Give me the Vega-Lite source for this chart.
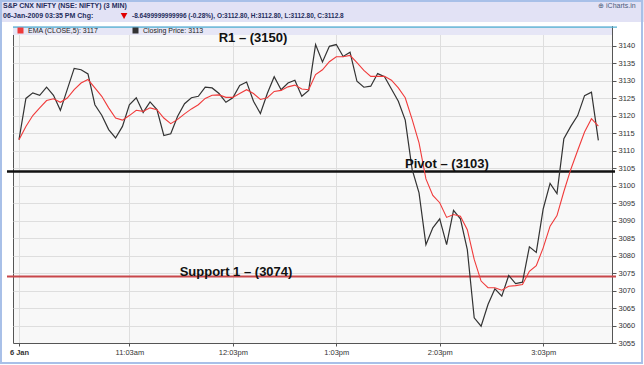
{
  "$schema": "https://vega.github.io/schema/vega-lite/v6.json",
  "width": 599,
  "height": 317,
  "autosize": "none",
  "padding": {"left": 13, "top": 26, "right": 32, "bottom": 22},
  "background": "#ffffff",
  "data": {"values": [{}]},
  "config": {
    "view": {"fill": "#f8f8f8", "stroke": "#555555", "strokeWidth": 1},
    "font": "Liberation Sans",
    "axis": {"labelFont": "Liberation Sans", "labelFontSize": 7.5, "labelColor": "#333333", "gridColor": "#dedede", "gridWidth": 1, "domainColor": "#555555", "tickColor": "#555555", "title": null, "labelOverlap": false}
  },
  "datasets": {
    "prices": [
      {"time": "2009-01-06 09:59", "close": 3113.1, "ema": 3113.1},
      {"time": "2009-01-06 10:03", "close": 3124.9, "ema": 3116.9},
      {"time": "2009-01-06 10:07", "close": 3126.5, "ema": 3120.0},
      {"time": "2009-01-06 10:11", "close": 3125.8, "ema": 3122.2},
      {"time": "2009-01-06 10:15", "close": 3128.1, "ema": 3124.3},
      {"time": "2009-01-06 10:19", "close": 3125.8, "ema": 3124.8},
      {"time": "2009-01-06 10:23", "close": 3121.5, "ema": 3123.8},
      {"time": "2009-01-06 10:27", "close": 3127.5, "ema": 3125.0},
      {"time": "2009-01-06 10:31", "close": 3133.5, "ema": 3127.4},
      {"time": "2009-01-06 10:35", "close": 3133.1, "ema": 3129.3},
      {"time": "2009-01-06 10:39", "close": 3131.9, "ema": 3130.3},
      {"time": "2009-01-06 10:43", "close": 3123.1, "ema": 3127.9},
      {"time": "2009-01-06 10:47", "close": 3120.1, "ema": 3125.5},
      {"time": "2009-01-06 10:51", "close": 3116.0, "ema": 3122.2},
      {"time": "2009-01-06 10:55", "close": 3113.6, "ema": 3119.3},
      {"time": "2009-01-06 10:59", "close": 3116.9, "ema": 3118.7},
      {"time": "2009-01-06 11:03", "close": 3123.1, "ema": 3120.0},
      {"time": "2009-01-06 11:07", "close": 3125.1, "ema": 3121.5},
      {"time": "2009-01-06 11:11", "close": 3120.9, "ema": 3121.2},
      {"time": "2009-01-06 11:15", "close": 3123.9, "ema": 3122.2},
      {"time": "2009-01-06 11:19", "close": 3121.7, "ema": 3121.7},
      {"time": "2009-01-06 11:23", "close": 3114.3, "ema": 3119.3},
      {"time": "2009-01-06 11:27", "close": 3114.8, "ema": 3117.7},
      {"time": "2009-01-06 11:31", "close": 3119.8, "ema": 3118.9},
      {"time": "2009-01-06 11:35", "close": 3123.4, "ema": 3120.5},
      {"time": "2009-01-06 11:39", "close": 3125.1, "ema": 3121.9},
      {"time": "2009-01-06 11:43", "close": 3125.5, "ema": 3123.1},
      {"time": "2009-01-06 11:47", "close": 3128.1, "ema": 3124.9},
      {"time": "2009-01-06 11:51", "close": 3127.9, "ema": 3125.8},
      {"time": "2009-01-06 11:55", "close": 3126.3, "ema": 3125.9},
      {"time": "2009-01-06 11:59", "close": 3123.8, "ema": 3125.2},
      {"time": "2009-01-06 12:03", "close": 3125.1, "ema": 3125.2},
      {"time": "2009-01-06 12:07", "close": 3128.6, "ema": 3126.3},
      {"time": "2009-01-06 12:11", "close": 3129.6, "ema": 3127.4},
      {"time": "2009-01-06 12:15", "close": 3124.1, "ema": 3126.3},
      {"time": "2009-01-06 12:19", "close": 3120.6, "ema": 3124.6},
      {"time": "2009-01-06 12:23", "close": 3126.3, "ema": 3125.1},
      {"time": "2009-01-06 12:27", "close": 3131.1, "ema": 3126.9},
      {"time": "2009-01-06 12:31", "close": 3127.4, "ema": 3127.2},
      {"time": "2009-01-06 12:35", "close": 3129.3, "ema": 3128.2},
      {"time": "2009-01-06 12:39", "close": 3130.1, "ema": 3128.7},
      {"time": "2009-01-06 12:43", "close": 3125.5, "ema": 3127.6},
      {"time": "2009-01-06 12:47", "close": 3127.2, "ema": 3127.4},
      {"time": "2009-01-06 12:51", "close": 3140.3, "ema": 3131.7},
      {"time": "2009-01-06 12:55", "close": 3135.3, "ema": 3133.1},
      {"time": "2009-01-06 12:59", "close": 3139.8, "ema": 3135.4},
      {"time": "2009-01-06 13:03", "close": 3140.3, "ema": 3136.8},
      {"time": "2009-01-06 13:07", "close": 3136.9, "ema": 3136.8},
      {"time": "2009-01-06 13:11", "close": 3138.1, "ema": 3137.2},
      {"time": "2009-01-06 13:15", "close": 3129.8, "ema": 3135.1},
      {"time": "2009-01-06 13:19", "close": 3128.1, "ema": 3132.9},
      {"time": "2009-01-06 13:23", "close": 3128.4, "ema": 3131.2},
      {"time": "2009-01-06 13:27", "close": 3132.0, "ema": 3131.2},
      {"time": "2009-01-06 13:31", "close": 3131.1, "ema": 3131.2},
      {"time": "2009-01-06 13:35", "close": 3127.6, "ema": 3130.1},
      {"time": "2009-01-06 13:39", "close": 3124.1, "ema": 3127.9},
      {"time": "2009-01-06 13:43", "close": 3118.7, "ema": 3125.1},
      {"time": "2009-01-06 13:47", "close": 3104.6, "ema": 3118.9},
      {"time": "2009-01-06 13:51", "close": 3097.9, "ema": 3112.2},
      {"time": "2009-01-06 13:55", "close": 3083.1, "ema": 3101.9},
      {"time": "2009-01-06 13:59", "close": 3087.9, "ema": 3097.2},
      {"time": "2009-01-06 14:03", "close": 3090.5, "ema": 3095.1},
      {"time": "2009-01-06 14:07", "close": 3083.1, "ema": 3090.9},
      {"time": "2009-01-06 14:11", "close": 3092.9, "ema": 3091.7},
      {"time": "2009-01-06 14:15", "close": 3090.5, "ema": 3091.2},
      {"time": "2009-01-06 14:19", "close": 3081.7, "ema": 3087.4},
      {"time": "2009-01-06 14:23", "close": 3062.2, "ema": 3078.9},
      {"time": "2009-01-06 14:27", "close": 3059.8, "ema": 3072.7},
      {"time": "2009-01-06 14:31", "close": 3066.0, "ema": 3070.8},
      {"time": "2009-01-06 14:35", "close": 3070.5, "ema": 3070.8},
      {"time": "2009-01-06 14:39", "close": 3068.4, "ema": 3070.1},
      {"time": "2009-01-06 14:43", "close": 3074.3, "ema": 3071.2},
      {"time": "2009-01-06 14:47", "close": 3072.0, "ema": 3071.4},
      {"time": "2009-01-06 14:51", "close": 3072.4, "ema": 3071.7},
      {"time": "2009-01-06 14:55", "close": 3082.5, "ema": 3075.5},
      {"time": "2009-01-06 14:59", "close": 3080.9, "ema": 3077.1},
      {"time": "2009-01-06 15:03", "close": 3093.3, "ema": 3082.2},
      {"time": "2009-01-06 15:07", "close": 3100.6, "ema": 3088.4},
      {"time": "2009-01-06 15:11", "close": 3097.7, "ema": 3091.4},
      {"time": "2009-01-06 15:15", "close": 3113.4, "ema": 3098.3},
      {"time": "2009-01-06 15:19", "close": 3116.9, "ema": 3104.6},
      {"time": "2009-01-06 15:23", "close": 3120.0, "ema": 3110.0},
      {"time": "2009-01-06 15:27", "close": 3125.7, "ema": 3115.3},
      {"time": "2009-01-06 15:31", "close": 3126.7, "ema": 3119.1},
      {"time": "2009-01-06 15:35", "close": 3112.9, "ema": 3117.0}
    ],
    "notes": [
      {"label": "R1 – (3150)", "time": "2009-01-06 12:14:43", "value": 3142.1},
      {"label": "Pivot – (3103)", "time": "2009-01-06 14:07:13", "value": 3106.2},
      {"label": "Support 1 – (3074)", "time": "2009-01-06 12:04:52", "value": 3075.4}
    ]
  },
  "layer": [
    {
      "mark": {"type": "rect", "color": "#e2e2f5"},
      "encoding": {
        "x": {"datum": {"year": 2009, "month": 1, "date": 6, "hours": 9, "minutes": 45}, "type": "temporal",
          "scale": {"domain": [{"year": 2009, "month": 1, "date": 6, "hours": 9, "minutes": 55, "seconds": 31}, {"year": 2009, "month": 1, "date": 6, "hours": 15, "minutes": 42, "seconds": 55}], "nice": false},
          "axis": {"values": [
            {"year": 2009, "month": 1, "date": 6, "hours": 9, "minutes": 59},
            {"year": 2009, "month": 1, "date": 6, "hours": 11, "minutes": 3},
            {"year": 2009, "month": 1, "date": 6, "hours": 12, "minutes": 3},
            {"year": 2009, "month": 1, "date": 6, "hours": 13, "minutes": 3},
            {"year": 2009, "month": 1, "date": 6, "hours": 14, "minutes": 3},
            {"year": 2009, "month": 1, "date": 6, "hours": 15, "minutes": 3}],
            "tickCount": 20,
            "labelExpr": "hours(datum.value) < 10 ? '6 Jan' : timeFormat(datum.value, '%-I:%M') + (hours(datum.value) < 12 ? 'am' : 'pm')",
            "labelFontWeight": {"condition": {"test": "hours(datum.value) < 10", "value": "bold"}, "value": "normal"},
            "grid": true, "tickSize": 3, "labelPadding": 2, "labelFlush": false, "labelOverlap": false}},
        "x2": {"datum": {"year": 2009, "month": 1, "date": 6, "hours": 16, "minutes": 5}},
        "y": {"datum": 3158, "type": "quantitative",
          "scale": {"domain": [3055, 3145.6], "nice": false, "zero": false},
          "axis": {"orient": "right", "values": [3055, 3060, 3065, 3070, 3075, 3080, 3085, 3090, 3095, 3100, 3105, 3110, 3115, 3120, 3125, 3130, 3135, 3140], "tickCount": 40, "grid": true, "tickSize": 4, "labelPadding": 2, "format": "d", "labelOverlap": false}},
        "y2": {"datum": 3146.75}
      }
    },
    {
      "mark": {"type": "rect", "color": "#e6e6f6"},
      "encoding": {
        "x": {"datum": {"year": 2009, "month": 1, "date": 6, "hours": 9, "minutes": 55, "seconds": 31}, "type": "temporal"},
        "x2": {"datum": {"year": 2009, "month": 1, "date": 6, "hours": 15, "minutes": 42, "seconds": 55}},
        "y": {"datum": 3145.6, "type": "quantitative"},
        "y2": {"datum": 3143.0}
      }
    },
    {
      "mark": {"type": "rule", "color": "#4fb0d2", "strokeWidth": 1.2},
      "encoding": {
        "x": {"datum": {"year": 2009, "month": 1, "date": 6, "hours": 9, "minutes": 55, "seconds": 31}, "type": "temporal"},
        "x2": {"datum": {"year": 2009, "month": 1, "date": 6, "hours": 15, "minutes": 45, "seconds": 50}},
        "y": {"datum": 3145.3, "type": "quantitative"}
      }
    },
    {
      "mark": {"type": "rule", "color": "#111111", "strokeWidth": 2.5},
      "encoding": {
        "x": {"datum": {"year": 2009, "month": 1, "date": 6, "hours": 9, "minutes": 52, "seconds": 2}, "type": "temporal"},
        "x2": {"datum": {"year": 2009, "month": 1, "date": 6, "hours": 15, "minutes": 44, "seconds": 40}},
        "y": {"datum": 3104, "type": "quantitative"}
      }
    },
    {
      "mark": {"type": "rule", "color": "#c8474a", "strokeWidth": 2},
      "encoding": {
        "x": {"datum": {"year": 2009, "month": 1, "date": 6, "hours": 9, "minutes": 52, "seconds": 2}, "type": "temporal"},
        "x2": {"datum": {"year": 2009, "month": 1, "date": 6, "hours": 15, "minutes": 45, "seconds": 15}},
        "y": {"datum": 3074, "type": "quantitative"}
      }
    },
    {
      "data": {"name": "prices"},
      "mark": {"type": "line", "strokeWidth": 1.2},
      "encoding": {
        "x": {"field": "time", "type": "temporal"},
        "y": {"field": "close", "type": "quantitative"},
        "color": {"datum": "Closing Price: 3113", "type": "nominal",
          "scale": {"domain": ["EMA (CLOSE,5): 3117", "Closing Price: 3113"], "range": ["#f03a3a", "#333333"]},
          "legend": {"orient": "none", "legendX": 4, "legendY": 1, "direction": "horizontal", "title": null,
            "symbolType": "square", "symbolSize": 9, "symbolStrokeWidth": 3, "labelFontSize": 7, "labelFont": "Liberation Sans",
            "labelColor": "#222222", "columnPadding": 29, "padding": 0, "labelOffset": 4}}
      }
    },
    {
      "data": {"name": "prices"},
      "mark": {"type": "line", "strokeWidth": 1.1},
      "encoding": {
        "x": {"field": "time", "type": "temporal"},
        "y": {"field": "ema", "type": "quantitative"},
        "color": {"datum": "EMA (CLOSE,5): 3117", "type": "nominal"}
      }
    },
    {
      "data": {"name": "notes"},
      "mark": {"type": "text", "font": "Liberation Sans", "fontSize": 13, "fontWeight": "bold", "color": "#111111", "align": "center", "baseline": "middle"},
      "encoding": {
        "x": {"field": "time", "type": "temporal"},
        "y": {"field": "value", "type": "quantitative"},
        "text": {"field": "label"}
      }
    },
    {
      "mark": {"type": "text", "text": "S&P CNX NIFTY (NSE: NIFTY) (3 MIN)", "font": "Liberation Sans", "fontSize": 7, "fontWeight": "bold", "color": "#1f2d5c", "align": "left", "baseline": "middle"},
      "encoding": {
        "x": {"datum": {"year": 2009, "month": 1, "date": 6, "hours": 9, "minutes": 49, "seconds": 43}, "type": "temporal"},
        "y": {"datum": 3151.3, "type": "quantitative"}
      }
    },
    {
      "mark": {"type": "text", "text": "06-Jan-2009 03:35 PM Chg:", "font": "Liberation Sans", "fontSize": 7, "fontWeight": "bold", "color": "#1f2d5c", "align": "left", "baseline": "middle"},
      "encoding": {
        "x": {"datum": {"year": 2009, "month": 1, "date": 6, "hours": 9, "minutes": 49, "seconds": 43}, "type": "temporal"},
        "y": {"datum": 3148.46, "type": "quantitative"}
      }
    },
    {
      "mark": {"type": "point", "shape": "triangle-down", "filled": true, "color": "#e00000", "size": 45, "opacity": 1},
      "encoding": {
        "x": {"datum": {"year": 2009, "month": 1, "date": 6, "hours": 10, "minutes": 59, "seconds": 55}, "type": "temporal"},
        "y": {"datum": 3148.46, "type": "quantitative"}
      }
    },
    {
      "mark": {"type": "text", "text": "-8.6499999999996 (-0.28%), O:3112.80, H:3112.80, L:3112.80, C:3112.8", "font": "Liberation Sans", "fontSize": 6.5, "fontWeight": "bold", "color": "#1f2d5c", "align": "left", "baseline": "middle"},
      "encoding": {
        "x": {"datum": {"year": 2009, "month": 1, "date": 6, "hours": 11, "minutes": 4, "seconds": 31}, "type": "temporal"},
        "y": {"datum": 3148.46, "type": "quantitative"}
      }
    },
    {
      "mark": {"type": "text", "text": "⊕ iCharts.in", "font": "Liberation Sans", "fontSize": 7, "color": "#4a5a7a", "align": "right", "baseline": "middle"},
      "encoding": {
        "x": {"datum": {"year": 2009, "month": 1, "date": 6, "hours": 15, "minutes": 56, "seconds": 37}, "type": "temporal"},
        "y": {"datum": 3151.3, "type": "quantitative"}
      }
    },
    {
      "mark": {"type": "rect", "fillOpacity": 0, "stroke": "#a8c0e8", "strokeWidth": 2},
      "encoding": {
        "x": {"datum": {"year": 2009, "month": 1, "date": 6, "hours": 9, "minutes": 48, "seconds": 33}, "type": "temporal"},
        "x2": {"datum": {"year": 2009, "month": 1, "date": 6, "hours": 16, "minutes": 0, "seconds": 19}},
        "y": {"datum": 3152.74, "type": "quantitative"},
        "y2": {"datum": 3049.29}
      }
    }
  ]
}
